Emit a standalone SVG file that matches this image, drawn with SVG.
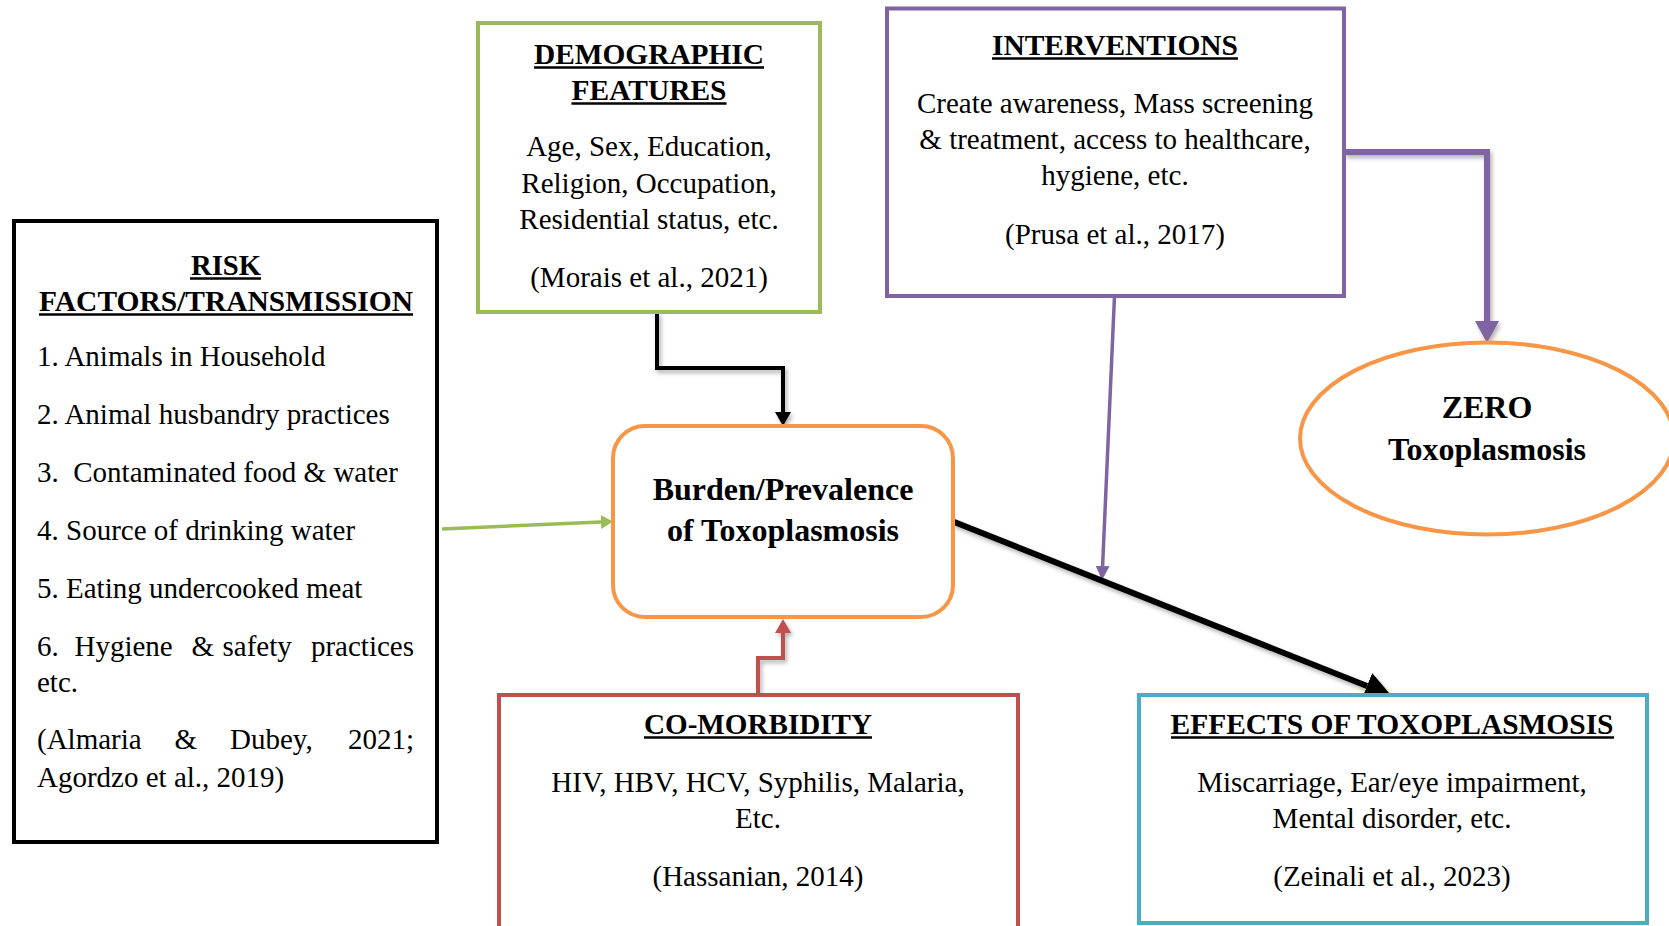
<svg xmlns="http://www.w3.org/2000/svg" width="1669" height="926" viewBox="0 0 1669 926">
<style>
text{font-family:"Liberation Serif","Times New Roman",serif;fill:#000}
.t{font-size:30px;font-weight:bold;text-anchor:middle}
.b{font-size:29px}
.c{font-size:29px;text-anchor:middle}
.bc{font-size:32px;font-weight:bold;text-anchor:middle}
.ul{stroke:#000;stroke-width:2.5}
.box{fill:#fff;stroke-width:4}
.cn{fill:none;stroke-linejoin:miter}
</style>
<defs>
<filter id="sh" filterUnits="userSpaceOnUse" x="0" y="0" width="1669" height="926"><feDropShadow dx="2" dy="3" stdDeviation="2" flood-color="#000" flood-opacity="0.3"/></filter>
<marker id="aBlk" markerUnits="userSpaceOnUse" markerWidth="14" markerHeight="16" refX="0" refY="8" orient="auto"><path d="M0,0 L14,8 L0,16 z" fill="#000"/></marker>
<marker id="aGrn" markerUnits="userSpaceOnUse" markerWidth="12" markerHeight="14" refX="0" refY="7" orient="auto"><path d="M0,0 L12,7 L0,14 z" fill="#9BBB59"/></marker>
<marker id="aPur" markerUnits="userSpaceOnUse" markerWidth="22" markerHeight="24" refX="0" refY="12" orient="auto"><path d="M0,0 L22,12 L0,24 z" fill="#8064A2"/></marker>
<marker id="aPur2" markerUnits="userSpaceOnUse" markerWidth="14" markerHeight="14" refX="0" refY="7" orient="auto"><path d="M0,0 L14,7 L0,14 z" fill="#8064A2"/></marker>
<marker id="aRed" markerUnits="userSpaceOnUse" markerWidth="14" markerHeight="16" refX="0" refY="8" orient="auto"><path d="M0,0 L14,8 L0,16 z" fill="#C0504D"/></marker>
<marker id="aBig" markerUnits="userSpaceOnUse" markerWidth="26" markerHeight="28" refX="0" refY="14" orient="auto"><path d="M0,0 L26,14 L0,28 z" fill="#000"/></marker>
</defs>
<rect width="1669" height="926" fill="#fff"/>

<g id="connectors">
<path class="cn" d="M657,312 V368 H783 V412" stroke="#000" stroke-width="4" marker-end="url(#aBlk)" filter="url(#sh)"/>
<path class="cn" d="M442,529 L601,522" stroke="#9BBB59" stroke-width="3.5" marker-end="url(#aGrn)"/>
<path class="cn" d="M1344,152 H1487 V321" stroke="#8064A2" stroke-width="6" marker-end="url(#aPur)" filter="url(#sh)"/>
<path class="cn" d="M1114.5,296 L1102.6,566" stroke="#8064A2" stroke-width="3.5" marker-end="url(#aPur2)"/>
<path class="cn" d="M953,521.5 L1367,686" stroke="#000" stroke-width="6" marker-end="url(#aBig)" filter="url(#sh)"/>
<path class="cn" d="M758,695 V658 H783 V633" stroke="#C0504D" stroke-width="4" marker-end="url(#aRed)" filter="url(#sh)"/>
</g>

<g id="risk">
<rect class="box" x="14" y="221" width="423" height="621" stroke="#000" stroke-width="4.5"/>
<text class="t" x="226" y="275" textLength="70" lengthAdjust="spacingAndGlyphs">RISK</text>
<line class="ul" x1="190" y1="278.5" x2="261" y2="278.5"/>
<text class="t" x="226" y="311" textLength="374" lengthAdjust="spacingAndGlyphs">FACTORS/TRANSMISSION</text>
<line class="ul" x1="39" y1="314.5" x2="413" y2="314.5"/>
<text class="b" x="37" y="366">1. Animals in Household</text>
<text class="b" x="37" y="424">2. Animal husbandry practices</text>
<text class="b" x="37" y="482" xml:space="preserve">3.  Contaminated food &amp; water</text>
<text class="b" x="37" y="540">4. Source of drinking water</text>
<text class="b" x="37" y="598">5. Eating undercooked meat</text>
<text class="b" y="656"><tspan x="37">6.</tspan><tspan x="74.5">Hygiene</tspan><tspan x="191.5">&amp;</tspan><tspan x="222.5">safety</tspan><tspan x="414" text-anchor="end">practices</tspan></text>
<text class="b" x="37" y="692">etc.</text>
<text class="b" y="749"><tspan x="37">(Almaria</tspan><tspan x="174.5">&amp;</tspan><tspan x="230">Dubey,</tspan><tspan x="414" text-anchor="end">2021;</tspan></text>
<text class="b" x="37" y="787">Agordzo et al., 2019)</text>
</g>

<g id="demographic">
<rect class="box" x="478" y="23" width="342" height="289" stroke="#9BBB59"/>
<text class="t" x="649" y="64" textLength="230" lengthAdjust="spacingAndGlyphs">DEMOGRAPHIC</text>
<line class="ul" x1="534" y1="67.5" x2="764" y2="67.5"/>
<text class="t" x="649" y="100" textLength="155" lengthAdjust="spacingAndGlyphs">FEATURES</text>
<line class="ul" x1="571.5" y1="103.5" x2="726.5" y2="103.5"/>
<text class="c" x="649" y="156">Age, Sex, Education,</text>
<text class="c" x="649" y="193">Religion, Occupation,</text>
<text class="c" x="649" y="229">Residential status, etc.</text>
<text class="c" x="649" y="287">(Morais et al., 2021)</text>
</g>

<g id="interventions">
<rect class="box" x="887" y="8.5" width="457" height="287.5" stroke="#8064A2"/>
<text class="t" x="1115" y="55" textLength="246" lengthAdjust="spacingAndGlyphs">INTERVENTIONS</text>
<line class="ul" x1="992" y1="58.5" x2="1238" y2="58.5"/>
<text class="c" x="1115" y="113">Create awareness, Mass screening</text>
<text class="c" x="1115" y="149">&amp; treatment, access to healthcare,</text>
<text class="c" x="1115" y="185">hygiene, etc.</text>
<text class="c" x="1115" y="244">(Prusa et al., 2017)</text>
</g>

<g id="burden">
<rect class="box" x="613" y="426" width="340" height="191" rx="32" ry="32" stroke="#F79646"/>
<text class="bc" x="783" y="500">Burden/Prevalence</text>
<text class="bc" x="783" y="541">of Toxoplasmosis</text>
</g>

<g id="zero">
<ellipse cx="1487" cy="438.5" rx="187" ry="96" fill="#fff" stroke="#F79646" stroke-width="4"/>
<text class="bc" x="1487" y="418">ZERO</text>
<text class="bc" x="1487" y="460">Toxoplasmosis</text>
</g>

<g id="comorbidity">
<rect class="box" x="499" y="695" width="519" height="260" stroke="#C0504D"/>
<text class="t" x="758" y="734" textLength="228" lengthAdjust="spacingAndGlyphs">CO-MORBIDITY</text>
<line class="ul" x1="644" y1="737.5" x2="872" y2="737.5"/>
<text class="c" x="758" y="792">HIV, HBV, HCV, Syphilis, Malaria,</text>
<text class="c" x="758" y="828">Etc.</text>
<text class="c" x="758" y="886">(Hassanian, 2014)</text>
</g>

<g id="effects">
<rect class="box" x="1139" y="695" width="508" height="228" stroke="#4BACC6"/>
<text class="t" x="1392" y="734" textLength="443" lengthAdjust="spacingAndGlyphs">EFFECTS OF TOXOPLASMOSIS</text>
<line class="ul" x1="1171" y1="737.5" x2="1614" y2="737.5"/>
<text class="c" x="1392" y="792">Miscarriage, Ear/eye impairment,</text>
<text class="c" x="1392" y="828">Mental disorder, etc.</text>
<text class="c" x="1392" y="886">(Zeinali et al., 2023)</text>
</g>
</svg>
